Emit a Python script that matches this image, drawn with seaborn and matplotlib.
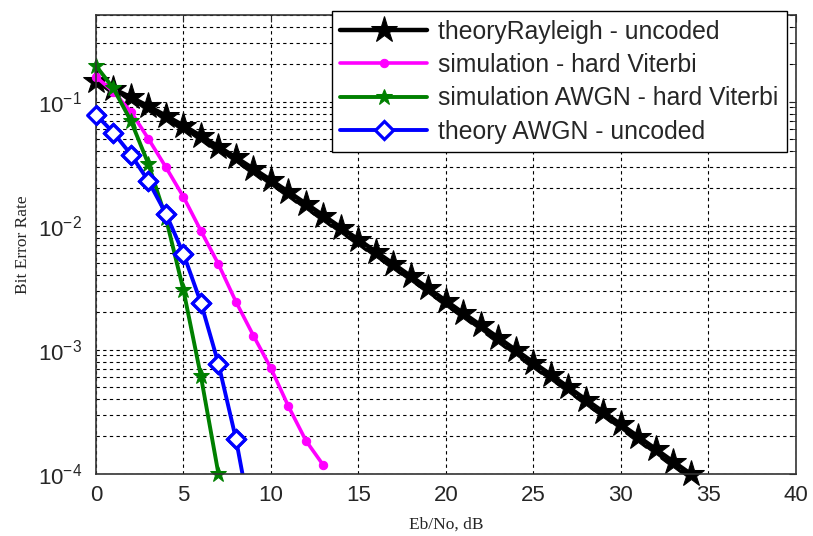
import matplotlib
matplotlib.use('Agg')
import matplotlib.pyplot as plt
import matplotlib.ticker as mticker
import seaborn as sns
import numpy as np

# Eb/No points (dB)
ebno_rayleigh = list(range(0, 35))
ebno_sim = list(range(0, 14))
ebno_awgn_sim = list(range(0, 8))
ebno_awgn = list(range(0, 10))

# BER values
ber_rayleigh = [0.1464, 0.1267, 0.1085, 0.0919, 0.0771, 0.0642, 0.0530, 0.0435,
                0.0355, 0.0288, 0.0233, 0.01875, 0.01507, 0.01208, 0.00966,
                0.00773, 0.00617, 0.00492, 0.00391, 0.00312, 0.00248, 0.00197,
                0.00157, 0.00125, 0.000993, 0.000789, 0.000628, 0.000499,
                0.000396, 0.000315, 0.000250, 0.000199, 0.000158, 0.000125,
                0.0000995]
ber_sim = [0.159, 0.12, 0.083, 0.0502, 0.0296, 0.0171, 0.0091, 0.0049,
           0.00244, 0.0013, 0.00071, 0.00035, 0.000185, 0.000117]
ber_awgn_sim = [0.195, 0.128, 0.070, 0.0314, 0.0115, 0.00303, 0.00061, 0.0001]
ber_awgn = [0.0786, 0.0563, 0.0375, 0.0229, 0.0125, 0.00595, 0.00239,
            0.000773, 0.000191, 0.0000336]

sns.set_style('white')
plt.rcParams['font.family'] = ['Liberation Sans', 'DejaVu Sans']
plt.rcParams['mathtext.fontset'] = 'custom'
plt.rcParams['mathtext.rm'] = 'Liberation Sans'
plt.rcParams['mathtext.it'] = 'Liberation Sans'

fig = plt.figure(figsize=(8.13, 5.36), dpi=100)
ax = fig.add_axes([0.118, 0.116, 0.861, 0.856])

sns.lineplot(x=ebno_rayleigh, y=ber_rayleigh, ax=ax, color='black', linewidth=3.2,
             marker='*', markersize=20, markeredgecolor='black', clip_on=False,
             label='theoryRayleigh - uncoded')
sns.lineplot(x=ebno_sim, y=ber_sim, ax=ax, color='#ff00ff', linewidth=2.6,
             marker='o', markersize=6, markeredgecolor='#ff00ff', clip_on=False,
             label='simulation - hard Viterbi')
sns.lineplot(x=ebno_awgn_sim, y=ber_awgn_sim, ax=ax, color='#008000', linewidth=2.8,
             marker='*', markersize=12, markeredgecolor='#008000', clip_on=False,
             label='simulation AWGN - hard Viterbi')
sns.lineplot(x=ebno_awgn, y=ber_awgn, ax=ax, color='#0000ff', linewidth=2.8,
             marker='D', markersize=9, markerfacecolor='white',
             markeredgecolor='#0000ff', markeredgewidth=2.3,
             label='theory AWGN - uncoded')
# markers are not clipped at the axes edge (line is)
sns.scatterplot(x=ebno_awgn[:9], y=ber_awgn[:9], ax=ax, marker='D', s=81,
                facecolor='white', edgecolor='#0000ff', linewidth=2.3,
                clip_on=False, legend=False, zorder=3)

ax.set_yscale('log')
ax.set_xlim(0, 40)
ax.set_ylim(1e-4, 0.5)
ax.set_xticks(range(0, 41, 5))
ax.yaxis.set_major_locator(mticker.LogLocator(base=10, numticks=10))
ax.yaxis.set_minor_locator(mticker.LogLocator(base=10, subs=np.arange(2, 10), numticks=20))

ax.grid(True, which='major', axis='both', color='black', linestyle=(0, (3, 3)), linewidth=0.8)
ax.grid(True, which='minor', axis='y', color='black', linestyle=(0, (3, 3)), linewidth=0.8)
ax.tick_params(which='both', direction='in', top=True, right=True, labelsize=16)
ax.tick_params(which='major', length=5)
ax.tick_params(which='minor', length=3)
ax.tick_params(axis='x', pad=8)
ax.tick_params(axis='y', pad=10)
for s in ax.spines.values():
    s.set_color('#333333')
    s.set_linewidth(1.2)

ax.set_xlabel('Eb/No, dB', fontsize=12.5, family='Liberation Serif', labelpad=8)
ax.set_ylabel('Bit Error Rate', fontsize=12.5, family='Liberation Serif')
ax.yaxis.set_label_coords(-0.093, 0.5)

leg = ax.legend(loc='upper right', bbox_to_anchor=(787 / 813, 1 - 11 / 536),
                bbox_transform=fig.transFigure, borderaxespad=0, fontsize=17.8,
                handlelength=3.5, frameon=True, fancybox=False, framealpha=1,
                labelspacing=0.38, borderpad=0.35, handletextpad=0.45)
leg.get_frame().set_edgecolor('black')
leg.get_frame().set_linewidth(1.0)

fig.savefig('out.png', dpi=100)
